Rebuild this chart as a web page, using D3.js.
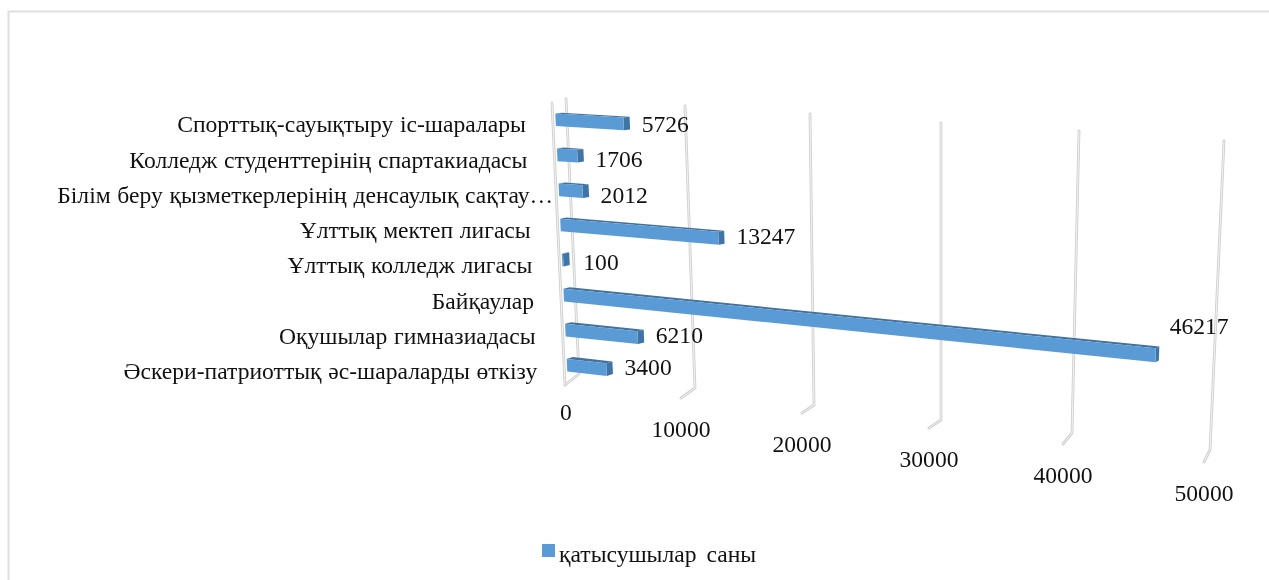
<!DOCTYPE html>
<html><head><meta charset="utf-8">
<script src="https://cdn.jsdelivr.net/npm/d3@7"></script>
<style>
html,body{margin:0;padding:0;background:#fff;overflow:hidden}
svg{display:block;filter:blur(0.35px)}
text{font-family:"Liberation Serif","Times New Roman",serif;fill:#111}
</style></head><body>
<svg id="c" width="1269" height="580"></svg>
<script>
const categories = ["Спорттық-сауықтыру іс-шаралары","Колледж студенттерінің спартакиадасы","Білім беру қызметкерлерінің денсаулық сақтау…","Ұлттық мектеп лигасы","Ұлттық колледж лигасы","Байқаулар","Оқушылар гимназиадасы","Әскери-патриоттық әс-шараларды өткізу"];
const values = [5726,1706,2012,13247,100,46217,6210,3400];
const ticks = [0,10000,20000,30000,40000,50000];
const seriesName = "қатысушылар саны";

// Perspective calibration of the 3D plot box, sampled at each axis tick
const backTopX = d3.scaleLinear(ticks,[566,685,810,941,1079,1224]);
const backTopY = d3.scaleLinear(ticks,[99,106,114,123,131,141]);
const backBotX = d3.scaleLinear(ticks,[579,695,814,941,1072,1210]);
const backBotY = d3.scaleLinear(ticks,[374,388,405,420,433,450]);
const frontBotX = d3.scaleLinear(ticks,[565,681,802,929,1063,1204]);
const frontBotY = d3.scaleLinear(ticks,[385,398,413,428,444,462]);
const frontTopX = v => backTopX(v) + frontBotX(v) - backBotX(v);
const frontTopY = v => backTopY(v) + 4;

const rowScale = d3.scaleBand(categories,[0,1]).paddingInner(0.64).paddingOuter(0.32);
const mix = d3.interpolateNumber;
function project(v,r,d){
  const bx = mix(backTopX(v),backBotX(v))(r), by = mix(backTopY(v),backBotY(v))(r);
  const fx = mix(frontTopX(v),frontBotX(v))(r), fy = mix(frontTopY(v),frontBotY(v))(r);
  return [mix(bx,fx)(d), mix(by,fy)(d)];
}
const svg = d3.select("#c");
const poly = d3.line().curve(d3.curveLinearClosed);
const open = d3.line();
const FS = 23.6;

// Frame
svg.append("path").attr("d","M8.5,581V11.5H1270").attr("fill","none").attr("stroke","#dfdfdf").attr("stroke-width",2);

// Gridlines and floor ticks
function gridStroke(d){
  svg.append("path").attr("d",d).attr("fill","none").attr("stroke","#cfcfcf").attr("stroke-width",2.8).attr("stroke-linecap","round").attr("stroke-linejoin","round");
  svg.append("path").attr("d",d).attr("fill","none").attr("stroke","#f3f3f3").attr("stroke-width",1).attr("stroke-linecap","round").attr("stroke-linejoin","round");
}
ticks.forEach(v=>{
  gridStroke(open([[backTopX(v),backTopY(v)],[backBotX(v),backBotY(v)],[frontBotX(v),frontBotY(v)]]));
});
gridStroke(open([[frontTopX(0),frontTopY(0)],[frontBotX(0),frontBotY(0)]]));

// Bars: the depth face is drawn flatter vertically than horizontally
const frontD = 0.8, backD = 0.4, flatten = 0.45;
function behind(v,r){
  const f = project(v,r,frontD), b = project(v,r,backD);
  return [b[0]+0.6, f[1]+(b[1]-f[1])*flatten];
}
const barG = svg.append("g");
categories.forEach((c,i)=>{
  const r0 = rowScale(c), r1 = r0 + rowScale.bandwidth(), v = values[i];
  const g = barG.append("g");
  g.append("path").attr("fill","#41719c").attr("d",poly([project(0,r0,frontD),project(v,r0,frontD),behind(v,r0),behind(0,r0)]));
  g.append("path").attr("fill","#3f74a6").attr("d",poly([project(v,r0,frontD),project(v,r1,frontD),behind(v,r1),behind(v,r0)]));
  g.append("path").attr("fill","#5b9bd5").attr("d",poly([project(0,r0,frontD),project(v,r0,frontD),project(v,r1,frontD),project(0,r1,frontD)]));
});

// Category labels
categories.forEach(c=>{
  const r = rowScale(c)+rowScale.bandwidth()/2;
  const gap = c.endsWith("…") ? 3 : 27;
  const p = project(0,r,1);
  svg.append("text").attr("x",p[0]-gap).attr("y",p[1]+3.5).attr("dy",".35em").attr("text-anchor","end").attr("font-size",FS).attr("word-spacing",0.8).text(c);
});

// Data labels, with the small manual offsets the source chart applied
const labelShiftX = [0,0,0,0,2,-4,0,0];
const labelShiftY = [-1,2,2,-4,1,-30,-4,-4];
categories.forEach((c,i)=>{
  const r = rowScale(c)+rowScale.bandwidth()/2;
  const p = project(values[i],r,frontD);
  svg.append("text").attr("x",p[0]+18+labelShiftX[i]).attr("y",p[1]+1+labelShiftY[i]).attr("dy",".35em").attr("font-size",FS).text(values[i]);
});

// Axis labels
ticks.forEach(v=>{
  svg.append("text").attr("x",frontBotX(v)+(v===0?1:0)).attr("y",frontBotY(v)+(v===0?27:31)).attr("dy",".35em").attr("text-anchor","middle").attr("font-size",FS).text(v);
});

// Legend
svg.append("rect").attr("x",542).attr("y",544).attr("width",13).attr("height",13).attr("fill","#5b9bd5");
svg.append("text").attr("x",559).attr("y",554).attr("dy",".35em").attr("font-size",FS).attr("word-spacing",4).text(seriesName);
</script>
</body></html>
